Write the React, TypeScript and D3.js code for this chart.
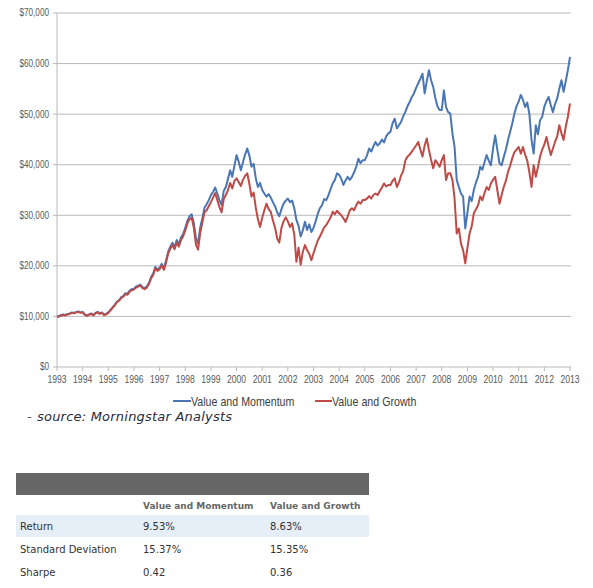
import React from "react";
import * as d3 from "d3";

const startYear = 1993;
const endYear = 2013;
const yTicks = [0, 10000, 20000, 30000, 40000, 50000, 60000, 70000];
const yearTicks = d3.range(1993, 2014);
const seriesNames = ["Value and Momentum", "Value and Growth"];
const seriesColors = ["#4a77b4", "#be4b48"];

// Monthly growth of $10,000 (in $ thousands), Jan 1993 .. Jan 2013
const momentum = [
  10.0, 10.1, 10.3, 10.4, 10.3, 10.5, 10.6, 10.8, 10.7, 10.9, 11.0, 10.8,
  10.9, 10.4, 10.2, 10.4, 10.6, 10.3, 10.7, 10.9, 10.6, 10.8, 10.4, 10.5,
  10.8, 11.3, 11.8, 12.3, 12.9, 13.2, 13.8, 14.0, 14.6, 14.5, 15.1, 15.4,
  15.5, 15.9, 16.1, 16.3, 15.8, 15.6, 15.9, 16.6, 17.8, 18.5, 19.8, 19.3,
  19.6, 20.4, 19.5, 21.0, 22.8, 23.8, 24.6, 23.7, 25.1, 24.3, 25.6, 26.3,
  27.5, 28.9, 29.8, 30.2, 28.5, 25.5, 24.4, 27.6, 29.4, 31.5, 32.2, 33.0,
  34.0, 34.6, 35.5, 34.3, 33.0, 32.0, 34.8, 35.6, 37.2, 38.9, 37.6, 39.8,
  41.9, 40.6, 38.9, 40.5, 42.0, 43.2, 41.8, 39.6, 40.2, 37.3, 35.6, 36.4,
  35.0, 34.3, 33.7, 34.2, 33.5, 32.6, 31.8, 30.6, 29.8, 31.2, 32.3, 32.9,
  33.3, 32.6, 32.9, 31.4, 29.1, 27.9, 25.8, 27.0, 28.7, 27.1, 28.2, 26.7,
  27.5, 28.8, 30.3, 31.4, 32.0, 33.2, 33.0, 34.0, 35.2, 36.3, 37.0, 38.3,
  38.0, 37.2, 36.0, 36.9, 37.6, 37.0, 37.6, 38.5, 39.6, 41.2, 40.3, 40.9,
  40.9, 41.8, 43.2, 42.6, 43.6, 44.5, 43.8, 44.2, 45.0, 44.4, 45.6, 46.2,
  46.5, 48.2, 49.1, 47.2, 47.8, 48.5, 49.6, 50.5, 51.6, 52.4, 53.4, 54.1,
  55.2, 56.1, 57.0, 58.0, 54.1, 56.5, 58.7, 56.7, 55.4, 53.2, 51.5, 50.8,
  50.8, 54.7, 51.4, 50.4, 50.1, 46.2, 43.5, 37.0, 35.6, 34.3, 33.7, 27.4,
  30.5, 33.7, 32.8, 35.0, 36.5, 37.6, 39.6, 39.0, 40.5, 41.9, 40.8, 39.9,
  43.2, 45.8, 43.0, 40.3, 39.9, 41.5, 43.0, 44.9, 46.5, 48.2, 50.1, 51.6,
  52.5, 53.8, 52.8, 51.4, 52.3, 50.0, 44.9, 42.2, 47.8, 46.0, 48.8, 49.5,
  51.5, 52.6, 53.4, 51.8, 50.4, 52.0, 53.1, 55.0, 56.7, 54.4, 56.5, 58.7,
  61.3,
];

const growth = [
  9.9, 10.0, 10.2, 10.3, 10.2, 10.4, 10.5, 10.7, 10.6, 10.8, 10.9, 10.7,
  10.8, 10.3, 10.1, 10.3, 10.5, 10.2, 10.6, 10.8, 10.5, 10.7, 10.3, 10.4,
  10.7, 11.2, 11.7, 12.2, 12.8, 13.1, 13.6, 13.9, 14.4, 14.3, 14.9, 15.2,
  15.3, 15.7, 15.9, 16.1, 15.6, 15.4, 15.7, 16.4, 17.5, 18.2, 19.5, 19.0,
  19.3, 20.1, 19.2, 20.6, 22.4, 23.4, 24.1, 23.3, 24.6, 23.8, 25.1, 25.8,
  27.0, 28.4, 29.2, 29.5, 27.6, 24.2, 23.2, 26.5, 28.6, 30.6, 31.0, 31.8,
  32.6, 33.5, 34.4, 33.0, 31.6, 30.6, 33.2, 34.0, 35.0, 36.4, 35.3, 36.8,
  37.3, 36.6, 35.8, 37.0, 37.8, 38.3, 36.2, 33.7, 34.5, 31.5, 29.2, 27.7,
  29.5, 31.0, 32.3, 31.2, 30.7, 29.0, 27.6, 25.4, 24.6, 27.5, 28.8, 29.6,
  28.8, 27.7, 28.4, 26.2, 20.8, 23.6, 20.2, 22.8, 24.1, 23.1, 22.4, 21.1,
  22.5, 23.8, 25.0, 25.8, 26.7, 27.6, 28.1, 28.8, 29.6, 30.7, 30.2, 30.9,
  30.4, 30.0, 29.4, 28.7, 29.8, 31.0, 31.4, 31.0, 32.0, 32.7, 32.3, 33.0,
  33.0, 33.3, 33.8, 33.3, 34.0, 34.3, 34.0, 34.8, 35.5, 36.3, 35.7, 36.0,
  36.0, 36.8, 37.3, 35.6, 36.5, 37.9, 38.8, 40.9, 41.6, 42.0, 42.6, 43.2,
  43.8, 44.5, 43.0, 41.6, 43.8, 45.2, 42.9, 41.0, 39.3, 40.9, 40.3, 39.6,
  40.9, 41.9, 37.0, 38.3, 38.3, 37.0, 33.3, 26.4, 27.4, 24.4, 23.1, 20.5,
  23.5, 26.4, 27.8, 30.4, 31.2, 32.0, 33.7, 33.0, 34.4, 35.6, 35.0, 36.3,
  37.0, 37.6, 35.0, 32.3, 34.0, 35.6, 36.8, 38.6, 39.8, 41.3, 42.5, 43.0,
  43.5, 42.2, 43.5, 42.0, 40.8, 38.5, 35.6, 39.9, 37.6, 39.5, 41.6, 43.0,
  44.0, 45.5, 43.6, 41.9, 43.2, 44.5, 45.6, 47.8, 46.2, 44.9, 47.5, 49.5,
  52.1,
];

const tableColumns = ["", "Value and Momentum", "Value and Growth"];
const tableRowLabels = ["Return", "Standard Deviation", "Sharpe"];
const tableMomentum = ["9.53%", "15.37%", "0.42"];
const tableGrowth = ["8.63%", "15.35%", "0.36"];

const sourceText = "source: Morningstar Analysts";

const W = 593;
const H = 588;
const sans = "'Liberation Sans', Arial, sans-serif";
const verdana = "'DejaVu Sans', Verdana, sans-serif";
const NARROW = 0.82;

export default function App() {
  const x = d3.scaleLinear().domain([startYear, endYear]).range([57, 570]);
  const y = d3.scaleLinear().domain([0, 70000]).range([367, 13]);

  const line = d3
    .line<number>()
    .x((_, i) => x(startYear + i / 12))
    .y((v) => y(v * 1000));

  const series = [momentum, growth];
  const rowY = [515, 538, 561];

  const narrowText = (
    key: string | number,
    tx: number,
    ty: number,
    str: string,
    size: number,
    anchor: string,
    fill: string
  ) => (
    <text
      key={key}
      transform={`translate(${tx},${ty}) scale(${NARROW},1)`}
      textAnchor={anchor}
      fontFamily={sans}
      fontSize={size}
      fill={fill}
    >
      {str}
    </text>
  );

  return (
    <svg
      width={W}
      height={H}
      style={{ position: "absolute", left: 0, top: 0, background: "#fff" }}
    >
      {yTicks.map((t) => (
        <g key={t}>
          {t > 0 && (
            <line x1={53} x2={571} y1={y(t)} y2={y(t)} stroke="#b9b9b9" strokeWidth={1} />
          )}
          {narrowText("l" + t, 49, y(t) + 3.4, d3.format("$,")(t), 10, "end", "#595959")}
        </g>
      ))}
      <line x1={57} x2={57} y1={13} y2={367} stroke="#b9b9b9" />
      <line x1={53} x2={571} y1={367} y2={367} stroke="#b9b9b9" />
      {yearTicks.map((yr) => (
        <g key={yr}>
          <line x1={x(yr)} x2={x(yr)} y1={367} y2={371} stroke="#b9b9b9" />
          {narrowText("y" + yr, x(yr), 383, String(yr), 10.5, "middle", "#595959")}
        </g>
      ))}
      {series.map((s, i) => (
        <path
          key={i}
          d={line(s) || ""}
          fill="none"
          stroke={seriesColors[i]}
          strokeWidth={2}
          strokeLinejoin="round"
        />
      ))}
      {[
        [173, 191],
        [315, 332],
      ].map(([a, b], i) => (
        <g key={i}>
          <line x1={a} x2={b} y1={401} y2={401} stroke={seriesColors[i]} strokeWidth={2} />
          {narrowText("g" + i, b, 405.5, seriesNames[i], 13, "start", "#404040")}
        </g>
      ))}
      <text x={27} y={421} fontFamily={verdana} fontSize={13} fontStyle="italic" fill="#555">
        -
      </text>
      <text
        x={37}
        y={421}
        fontFamily={verdana}
        fontSize={13}
        fontStyle="italic"
        fill="#2a2a40"
        textLength={195}
        lengthAdjust="spacing"
      >
        {sourceText}
      </text>

      <rect x={16} y={473} width={353} height={22} fill="#666666" />
      {tableColumns.map((c, i) =>
        c ? (
          <text
            key={i}
            x={i === 1 ? 143 : 270}
            y={509}
            fontFamily={verdana}
            fontSize={9}
            fontWeight="bold"
            fill="#666"
          >
            {c}
          </text>
        ) : null
      )}
      <rect x={16} y={rowY[0]} width={353} height={22} fill="#e6eef8" />
      {tableRowLabels.map((r, i) => (
        <g key={r}>
          <text x={20} y={rowY[i] + 15} fontFamily={verdana} fontSize={10} fill="#333">
            {r}
          </text>
          <text x={143} y={rowY[i] + 15} fontFamily={verdana} fontSize={10} fill="#333">
            {tableMomentum[i]}
          </text>
          <text x={270} y={rowY[i] + 15} fontFamily={verdana} fontSize={10} fill="#333">
            {tableGrowth[i]}
          </text>
        </g>
      ))}
    </svg>
  );
}
